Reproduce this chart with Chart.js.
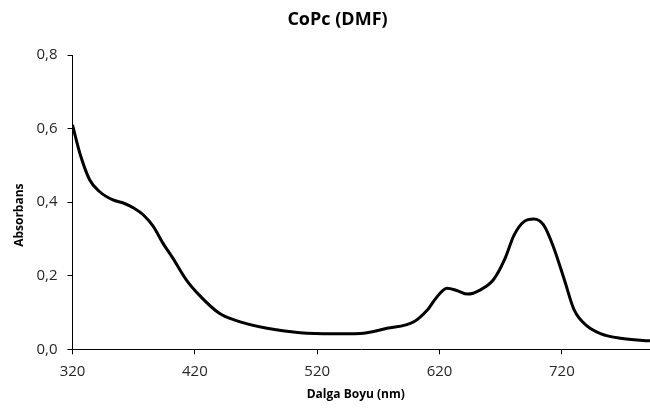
<!DOCTYPE html>
<html>
<head>
<meta charset="utf-8">
<script src="https://cdn.jsdelivr.net/npm/chart.js@4"></script>
<style>
  html, body { margin: 0; padding: 0; background: #fff; }
  #wrap { width: 650px; height: 413px; position: relative; }
</style>
</head>
<body>
<div id="wrap"><canvas id="c" width="650" height="413"></canvas></div>
<script>
const titleText = 'CoPc (DMF)';
const xTitle = 'Dalga Boyu (nm)';
const yTitle = 'Absorbans';
const wavelengths = [320,326,334,342,353,362,370,378,386,394,402,413,424,440,452,479,506,533,555,577,599,610,618,626,634,643,653,664,673,681,689,697,705,713,722,730,741,752,768,792];
const absorbance = [0.610,0.533,0.461,0.429,0.406,0.397,0.384,0.365,0.334,0.288,0.248,0.189,0.146,0.098,0.080,0.057,0.045,0.042,0.043,0.057,0.075,0.107,0.143,0.166,0.160,0.150,0.161,0.189,0.243,0.311,0.347,0.354,0.338,0.279,0.189,0.107,0.062,0.042,0.030,0.023];
const xTicks = [320,420,520,620,720];
const yTicks = [0,0.2,0.4,0.6,0.8];

const points = wavelengths.map((w, i) => ({x: w, y: absorbance[i]}));
const FONT = 'Open Sans';

const titleShift = {
  id: 'titleShift',
  afterLayout(chart) {
    const t = chart.titleBlock;
    if (t) { t.left += 12.5; t.right += 12.5; }
    const ys = chart.scales.y;
    if (ys && !ys._shifted) {
      const orig = ys.drawTitle.bind(ys);
      ys.drawTitle = function () { this.top += 13; this.bottom += 13; orig(); this.top -= 13; this.bottom -= 13; };
      ys._shifted = true;
    }
    const xs = chart.scales.x;
    if (xs && !xs._shifted) {
      const origX = xs.drawTitle.bind(xs);
      xs.drawTitle = function () { this.left -= 5.5; this.right -= 5.5; origX(); this.left += 5.5; this.right += 5.5; };
      xs._shifted = true;
    }
  }
};

new Chart(document.getElementById('c'), {
  type: 'line',
  data: {
    datasets: [{
      data: points,
      borderColor: '#000',
      borderWidth: 3,
      pointRadius: 0,
      fill: false,
      cubicInterpolationMode: 'monotone'
    }]
  },
  plugins: [titleShift],
  options: {
    responsive: false,
    animation: false,
    layout: { padding: { left: 0, right: 0, top: 0, bottom: 0 } },
    plugins: {
      legend: { display: false },
      tooltip: { enabled: false },
      title: {
        display: true,
        text: titleText,
        color: '#000',
        font: { family: FONT, size: 18, weight: 'bold' },
        padding: { top: 9, bottom: 24.4 }
      }
    },
    scales: {
      x: {
        type: 'linear',
        min: 320,
        max: 792,
        afterBuildTicks: (s) => { s.ticks = xTicks.map(v => ({value: v})); },
        afterFit: (s) => { s.height = 63.7; },
        border: { color: '#000', width: 1 },
        grid: { display: true, drawOnChartArea: false, drawTicks: true, tickLength: 5, color: '#000' },
        ticks: { color: '#262626', font: { family: FONT, size: 15 }, padding: 8, maxRotation: 0 },
        title: { display: true, text: xTitle, color: '#000', font: { family: FONT, size: 12, weight: 'bold' }, padding: { top: 2, bottom: 11 } }
      },
      y: {
        min: 0,
        max: 0.8,
        afterBuildTicks: (s) => { s.ticks = yTicks.map(v => ({value: v})); },
        afterFit: (s) => { s.width = 72.5; },
        border: { color: '#000', width: 1 },
        grid: { display: true, drawOnChartArea: false, drawTicks: true, tickLength: 5, color: '#000' },
        ticks: { color: '#262626', font: { family: FONT, size: 15 }, padding: 10,
                 callback: (v) => v.toFixed(1).replace('.', ',') },
        title: { display: true, text: yTitle, color: '#000', font: { family: FONT, size: 12, weight: 'bold' }, padding: { top: 12, bottom: 4 } }
      }
    }
  }
});
</script>
</body>
</html>
